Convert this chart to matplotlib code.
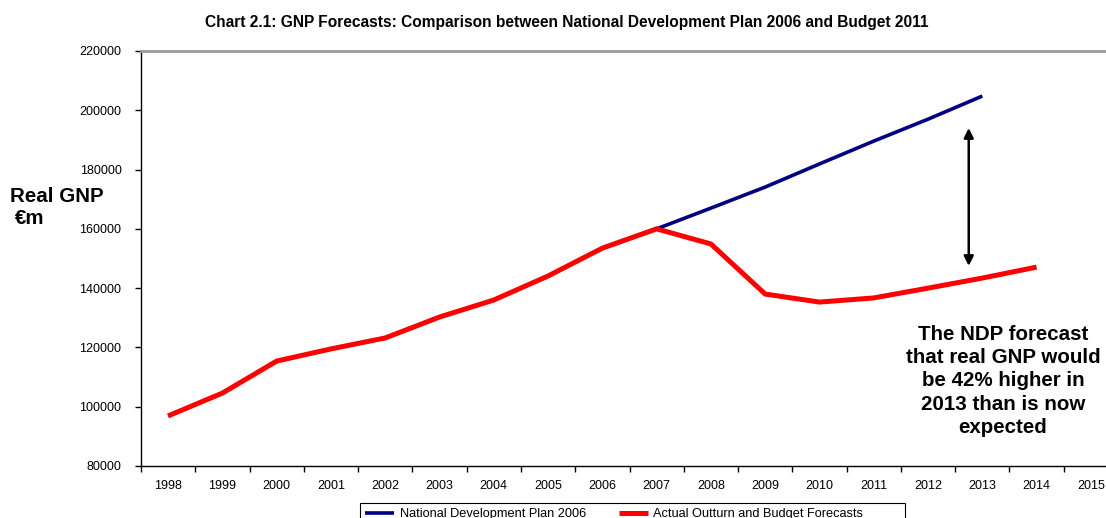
import matplotlib
matplotlib.use("Agg")
import matplotlib.pyplot as plt
from matplotlib.patches import Rectangle

plt.rcParams['font.family'] = ['Liberation Sans', 'DejaVu Sans']

years = [str(y) for y in range(1998, 2016)]
ndp_years = list(range(1998, 2014))
ndp_values = [96900, 104600, 115400, 119500, 123200, 130250, 136000, 144100,
              153500, 160000, 167000, 174100, 181900, 189600, 197000, 204800]
actual_years = list(range(1998, 2015))
actual_values = [96900, 104600, 115400, 119500, 123200, 130250, 136000, 144100,
                 153500, 160000, 154900, 138000, 135300, 136700, 140000, 143400, 147100]
yticks = list(range(80000, 220001, 20000))

title = "Chart 2.1: GNP Forecasts: Comparison between National Development Plan 2006 and Budget 2011"
note = "The NDP forecast\nthat real GNP would\nbe 42% higher in\n2013 than is now\nexpected"

fig = plt.figure(figsize=(11.06, 5.18), dpi=100)
ax = fig.add_axes([141/1106, 1-466/518, (1118-141)/1106, (466-51)/518])

xi_ndp = [y - 1998 for y in ndp_years]
xi_act = [y - 1998 for y in actual_years]
l1, = ax.plot(xi_ndp, ndp_values, color='#000080', lw=2.6, solid_capstyle='butt',
              label='National Development Plan 2006')
l2, = ax.plot(xi_act, actual_values, color='#FF0000', lw=3.6, solid_capstyle='butt',
              solid_joinstyle='miter', label='Actual Outturn and Budget Forecasts')

ax.set_xlim(-0.5, len(years) - 0.5)
ax.set_ylim(80000, 220000)
ax.set_yticks(yticks)
ax.set_yticklabels([str(v) for v in yticks], fontsize=9)
ax.set_xticks(range(len(years)))
ax.set_xticklabels(years, fontsize=9)
ax.set_xticks([i - 0.5 for i in range(len(years) + 1)], minor=True)
ax.tick_params(axis='x', which='major', length=0, pad=10)
ax.tick_params(axis='x', which='minor', length=4, direction='out', width=1)
ax.tick_params(axis='y', length=4, direction='out', width=1, pad=10)

ax.spines['right'].set_visible(False)
ax.spines['top'].set_color('#999999')
ax.spines['top'].set_linewidth(2)
ax.spines['left'].set_linewidth(1)
ax.spines['bottom'].set_linewidth(1)

ax.annotate('', xy=(14.75, 147500), xytext=(14.75, 194000),
            arrowprops=dict(arrowstyle='<|-|>', color='black', lw=1.8,
                            mutation_scale=14, shrinkA=0, shrinkB=0))

ax.text(15.38, 108700, note, ha='center', va='center', fontsize=14.8,
        fontweight='bold', linespacing=1.28)

fig.text(567/1106, 1-22/518, title, ha='center', va='center', fontsize=11.2, fontweight='bold')
fig.text(10/1106, 1-196/518, "Real GNP", ha='left', va='center', fontsize=14.8, fontweight='bold')
fig.text(15/1106, 1-218/518, "\u20acm", ha='left', va='center', fontsize=14.8, fontweight='bold')

leg = fig.legend(handles=[l1, l2], loc='upper left', bbox_to_anchor=(360/1106, 1-503/518),
                 ncol=2, fontsize=9.2, frameon=False,
                 handlelength=2.3, columnspacing=2.6, borderpad=0.4, handletextpad=0.4,
                 borderaxespad=0)
fig.patches.append(Rectangle((360/1106, -0.05), (905-360)/1106, 0.05 + 1-503/518,
                             transform=fig.transFigure, fill=False, edgecolor='black',
                             linewidth=0.8, figure=fig))

fig.savefig('out.png', dpi=100)
